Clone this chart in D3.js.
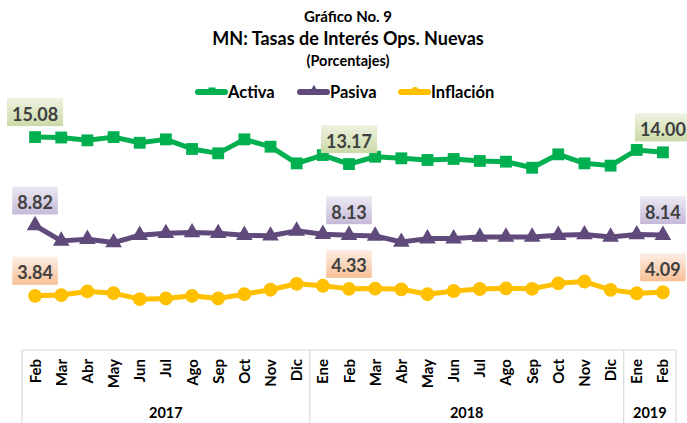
<!DOCTYPE html>
<html>
<head>
<meta charset="utf-8">
<script src="https://cdn.jsdelivr.net/npm/d3@7"></script>
<style>
  body { margin: 0; background: #fff; }
  svg { display: block; font-family: Lato, "Open Sans", sans-serif; font-weight: bold; }
</style>
</head>
<body>
<svg width="687" height="423"></svg>
<script>
const months = ['Feb','Mar','Abr','May','Jun','Jul','Ago','Sep','Oct','Nov','Dic',
                'Ene','Feb','Mar','Abr','May','Jun','Jul','Ago','Sep','Oct','Nov','Dic',
                'Ene','Feb'];
const years = [{label: '2017', from: 0, to: 11}, {label: '2018', from: 11, to: 23}, {label: '2019', from: 23, to: 25}];

const activa = [15.08, 15.05, 14.85, 15.08, 14.68, 14.92, 14.24, 13.93, 14.92, 14.40, 13.22, 13.81,
                13.17, 13.69, 13.58, 13.46, 13.53, 13.39, 13.34, 12.91, 13.86, 13.22, 13.06, 14.17, 14.00];
const pasiva = [8.82, 7.73, 7.85, 7.61, 8.13, 8.27, 8.32, 8.27, 8.13, 8.09, 8.44, 8.20,
                8.13, 8.08, 7.65, 7.89, 7.89, 8.01, 8.01, 8.01, 8.13, 8.18, 8.01, 8.18, 8.14];
const inflacion = [3.84, 3.89, 4.15, 4.03, 3.60, 3.65, 3.84, 3.65, 3.96, 4.27, 4.69, 4.55,
                   4.33, 4.35, 4.30, 3.95, 4.18, 4.32, 4.37, 4.33, 4.72, 4.85, 4.26, 4.02, 4.09];
const labelIdx = [0, 12, 24];

const series = [
  {name: 'Activa', values: activa, color: '#00b050', symbol: d3.symbolSquare, size: 140,
   grad: ['#eef2e0', '#cbdaa8']},
  {name: 'Pasiva', values: pasiva, color: '#604a7b', symbol: d3.symbolTriangle, size: 120,
   grad: ['#ede9f3', '#c5b9d9']},
  {name: 'Inflación', values: inflacion, color: '#ffc000', symbol: d3.symbolCircle, size: 150,
   grad: ['#fdeee4', '#f7bf96']}
];

const svg = d3.select('svg');

const x = d3.scaleBand().domain(d3.range(months.length)).range([22, 676]);
const y = d3.scaleLinear().domain([0, 17]).range([350, 110]);

// titulos
svg.append('text').attr('x', 348).attr('y', 22).attr('text-anchor', 'middle')
  .attr('font-size', 15).attr('fill', '#000').text('Gráfico No. 9');
svg.append('text').attr('x', 348).attr('y', 45).attr('text-anchor', 'middle')
  .attr('font-size', 18).attr('fill', '#000').text('MN: Tasas de Interés Ops. Nuevas');
svg.append('text').attr('x', 348).attr('y', 66).attr('text-anchor', 'middle')
  .attr('font-size', 14.5).attr('fill', '#000').text('(Porcentajes)');

// gradientes para etiquetas
const defs = svg.append('defs');
series.forEach((s, i) => {
  const g = defs.append('linearGradient').attr('id', 'g' + i)
    .attr('x1', 0).attr('y1', 0).attr('x2', 0).attr('y2', 1);
  g.append('stop').attr('offset', '0%').attr('stop-color', s.grad[0]);
  g.append('stop').attr('offset', '100%').attr('stop-color', s.grad[1]);
});

// leyenda
const legendX = [195, 297, 398];
series.forEach((s, i) => {
  const lg = svg.append('g').attr('transform', `translate(${legendX[i]},92)`);
  lg.append('line').attr('x1', 3).attr('x2', 30).attr('y1', 0).attr('y2', 0)
    .attr('stroke', s.color).attr('stroke-width', 6).attr('stroke-linecap', 'round');
  lg.append('path').attr('d', d3.symbol(s.symbol, 50)()).attr('transform', 'translate(17,-1)')
    .attr('fill', s.color);
  lg.append('text').attr('x', 33).attr('y', 6).attr('font-size', 16.5).attr('fill', '#000').text(s.name);
});

// eje x: caja de categorias
const axis = svg.append('g').attr('stroke', '#d9d9d9').attr('stroke-width', 1.2);
axis.append('line').attr('x1', x.range()[0]).attr('x2', x.range()[1]).attr('y1', 350).attr('y2', 350);
const bounds = [0, 11, 23, 25].map(i => i === months.length ? x.range()[1] : x(i));
bounds.forEach(b => axis.append('line').attr('x1', b).attr('x2', b).attr('y1', 350).attr('y2', 423));

svg.selectAll('.month').data(months)
  .enter().append('text')
    .attr('class', 'month')
    .attr('transform', (d, i) => `translate(${x(i) + x.bandwidth() / 2 + 5.5},359) rotate(-90)`)
    .attr('text-anchor', 'end')
    .attr('font-size', 15)
    .attr('fill', '#000')
    .text(d => d);

svg.selectAll('.year').data(years)
  .enter().append('text')
    .attr('class', 'year')
    .attr('x', d => (x(d.from) + (d.to === months.length ? x.range()[1] : x(d.to))) / 2)
    .attr('y', 418)
    .attr('text-anchor', 'middle')
    .attr('font-size', 14.5)
    .attr('fill', '#000')
    .text(d => d.label);

// lineas y marcadores
const cx = i => x(i) + x.bandwidth() / 2;
const line = d3.line().x((d, i) => cx(i)).y(d => y(d));

series.forEach((s, si) => {
  const g = svg.append('g');
  g.append('path').attr('d', line(s.values))
    .attr('fill', 'none').attr('stroke', s.color).attr('stroke-width', 5)
    .attr('stroke-linejoin', 'round');
  g.selectAll('path.mk').data(s.values)
    .enter().append('path')
      .attr('class', 'mk')
      .attr('d', d3.symbol(s.symbol, s.size)())
      .attr('transform', (d, i) => `translate(${cx(i)},${y(d)})`)
      .attr('fill', s.color);

  // etiquetas de datos
  labelIdx.forEach(i => {
    const v = s.values[i];
    const t = g.append('text')
      .attr('x', cx(i)).attr('y', y(v) - 16.5)
      .attr('text-anchor', 'middle')
      .attr('font-size', 18)
      .attr('fill', '#404040')
      .text(v.toFixed(2));
    const bb = t.node().getBBox();
    g.insert('rect', () => t.node())
      .attr('x', bb.x - 5).attr('y', y(v) - 39)
      .attr('width', bb.width + 10).attr('height', 28)
      .attr('fill', `url(#g${si})`);
  });
});
</script>
</body>
</html>
